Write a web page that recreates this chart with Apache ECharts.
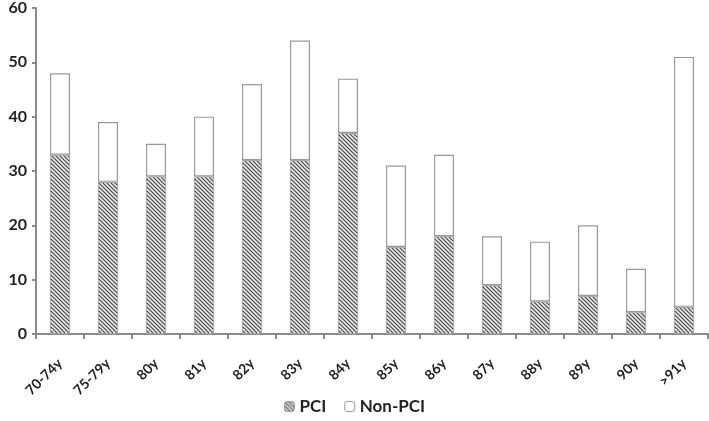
<!DOCTYPE html>
<html><head><meta charset="utf-8">
<script src="https://cdn.jsdelivr.net/npm/echarts@6/dist/echarts.min.js"></script>
<style>html,body{margin:0;padding:0;background:#fff}#c{width:709px;height:421px}</style>
</head><body><div id="c"></div>
<script>
var categories = ['70-74y','75-79y','80y','81y','82y','83y','84y','85y','86y','87y','88y','89y','90y','>91y'];
var pci = [33, 28, 29, 29, 32, 32, 37, 16, 18, 9, 6, 7, 4, 5];
var nonPci = [15, 11, 6, 11, 14, 22, 10, 15, 15, 9, 11, 13, 8, 46];
var yTicks = [0, 10, 20, 30, 40, 50, 60];

function hatch() {
  var c = document.createElement('canvas');
  c.width = 4; c.height = 4;
  var g = c.getContext('2d');
  g.fillStyle = '#e8e8e8'; g.fillRect(0, 0, 4, 4);
  g.strokeStyle = '#444'; g.lineWidth = 1.1;
  g.beginPath();
  g.moveTo(-1, -1); g.lineTo(5, 5);
  g.moveTo(-1, 3); g.lineTo(1, 5);
  g.moveTo(3, -1); g.lineTo(5, 1);
  g.stroke();
  return c;
}
var pat = {image: hatch(), repeat: 'repeat'};
var font = 'Lato, "Open Sans", sans-serif';
var chart = echarts.init(document.getElementById('c'));
chart.setOption({
  animation: false,
  grid: {left: 36, right: 1, top: 6, bottom: 87},
  legend: {
    bottom: 1, left: 'center', itemWidth: 10, itemHeight: 10, itemGap: 18,
    textStyle: {fontFamily: font, fontWeight: 'bold', fontSize: 17, color: '#222'},
    data: [
      {name: 'PCI', itemStyle: {color: pat, borderColor: '#999', borderWidth: 1}},
      {name: 'Non-PCI', itemStyle: {color: '#fff', borderColor: '#999', borderWidth: 1}}
    ]
  },
  xAxis: {
    type: 'category', data: categories,
    axisLine: {lineStyle: {color: '#8a8a8a', width: 2}},
    axisTick: {show: true, length: 5, lineStyle: {color: '#8a8a8a', width: 2}},
    axisLabel: {rotate: 45, interval: 0, fontFamily: font, fontWeight: 'bold', fontSize: 14, color: '#222', margin: 27}
  },
  yAxis: {
    type: 'value', min: yTicks[0], max: yTicks[yTicks.length - 1], interval: 10,
    axisLine: {show: true, lineStyle: {color: '#8a8a8a', width: 2}},
    axisTick: {show: true, length: 4, lineStyle: {color: '#8a8a8a', width: 2}},
    splitLine: {show: false},
    axisLabel: {fontFamily: font, fontWeight: 'bold', fontSize: 16, color: '#222', margin: 9}
  },
  series: [
    {name: 'PCI', type: 'bar', stack: 'a', data: pci, barWidth: 20,
     itemStyle: {color: pat, borderColor: '#aaa', borderWidth: 1}},
    {name: 'Non-PCI', type: 'bar', stack: 'a', data: nonPci, barWidth: 20,
     itemStyle: {color: '#fff', borderColor: '#999', borderWidth: 1.2}}
  ]
});
</script></body></html>
